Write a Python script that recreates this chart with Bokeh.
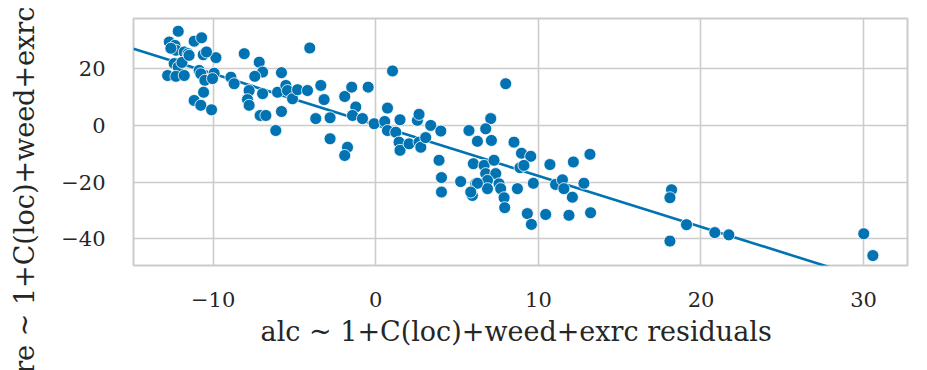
import numpy as np
from bokeh.plotting import figure
from bokeh.models import FixedTicker, Range1d
from bokeh.embed import file_html
from bokeh.resources import INLINE

# partial-regression residuals
alc_resid = [
    -12.15, -12.70, -12.35, -12.29, -12.60, -11.78, -11.54, -11.17, -10.71, -10.61,
    -9.83, -8.09, -12.40, -12.15, -11.92, -12.80, -12.29, -11.78, -10.86, -10.76,
    -10.51, -9.94, -10.04, -8.91, -8.71, -10.59, -11.17, -10.76, -10.10, -7.17,
    -6.96, -7.44, -4.06, -5.80, -7.79, -7.89, -7.79, -6.96, -7.11, -6.76,
    -5.80, -6.15, -6.04, -5.53, -5.43, -5.12, -4.81, -4.20, -3.38, -3.18,
    -3.69, -2.81, -2.81, -1.74, -1.91, -1.91, -1.48, -0.47, 1.03, -1.23,
    -1.43, -0.82, -0.10, 0.72, 0.55, 0.72, 1.23, 1.49, 1.43, 1.49,
    2.05, 2.56, 2.66, 2.66, 2.77, 3.38, 4.00, 3.07, 3.89, 5.73,
    6.25, 6.00, 4.04, 4.04, 5.22, 6.15, 5.94, 7.99, 7.07, 6.76,
    7.11, 8.50, 8.96, 9.53, 10.71, 12.15, 13.17, 6.66, 7.27, 6.76,
    7.38, 6.87, 7.58, 6.87, 7.68, 7.89, 7.93, 8.71, 8.87, 9.11,
    9.69, 11.06, 11.48, 11.57, 12.09, 12.80, 9.32, 9.57, 10.45, 11.88,
    13.21, 18.19, 18.09, 19.11, 18.09, 20.85, 21.71, 30.01, 30.57, -11.48,
    6.25, 5.84, -10.41,
]
score_resid = [
    33.2, 29.4, 28.2, 26.5, 27.2, 25.9, 25.3, 29.7, 30.9, 24.9,
    23.9, 25.3, 21.8, 20.6, 22.2, 17.6, 17.3, 17.6, 19.4, 18.2,
    15.9, 18.4, 16.5, 17.0, 14.7, 11.7, 8.8, 7.1, 5.5, 22.3,
    18.8, 17.3, 27.3, 18.6, 12.3, 9.1, 7.1, 11.2, 3.5, 3.5,
    4.9, -1.8, 11.7, 14.1, 12.3, 9.4, 12.6, 12.3, 14.1, 9.1,
    2.4, 2.7, -4.7, -7.7, -10.6, 10.2, 13.5, 13.5, 19.2, 6.5,
    3.5, 2.4, 0.6, 6.1, 1.4, -1.8, -2.4, 2.0, -5.9, -8.8,
    -6.5, 1.8, 3.9, -5.9, -7.7, 0.0, -2.0, -4.3, -12.3, -1.8,
    -5.6, -13.5, -18.4, -23.5, -19.8, -20.6, -24.7, 14.7, 2.4, -1.2,
    -5.3, -5.9, -9.8, -10.9, -13.8, -12.9, -10.2, -14.1, -12.3, -17.0,
    -17.0, -19.4, -20.6, -22.3, -22.3, -25.5, -29.0, -22.3, -14.9, -14.1,
    -20.4, -20.8, -19.2, -22.3, -25.3, -20.4, -31.1, -34.9, -31.4, -31.7,
    -30.8, -22.7, -25.5, -35.0, -40.8, -37.8, -38.6, -38.2, -45.9, 24.7,
    -20.4, -23.5, 25.9,
]

x_ticks = [-10, 0, 10, 20, 30]
x_tick_labels = ["\u221210", "0", "10", "20", "30"]
y_ticks = [-40, -20, 0, 20]
y_tick_labels = ["\u221240", "\u221220", "0", "20"]
x_label = "alc ~ 1+C(loc)+weed+exrc  residuals"
y_label = "score ~ 1+C(loc)+weed+exrc  residuals"

x_lim = (-14.9, 32.7)
y_lim = (-49.4, 37.7)

BLUE = "#0173b2"
GRID = "#cccccc"
TXT = "#262626"
FONT = "DejaVu Serif"

p = figure(width=927, height=370, output_backend="svg", toolbar_location=None,
           x_range=Range1d(*x_lim), y_range=Range1d(*y_lim),
           min_border_left=133, min_border_right=20, min_border_top=18,
           min_border_bottom=105)

# regression line (OLS fit of the residuals), across the whole x range
slope, intercept = np.polyfit(alc_resid, score_resid, 1)
lx = np.array(x_lim)
p.line(lx, intercept + slope * lx, line_color=BLUE, line_width=2.6)

p.scatter(alc_resid, score_resid, size=12, fill_color=BLUE,
          line_color="white", line_width=0.8)

p.xaxis.ticker = FixedTicker(ticks=x_ticks)
p.yaxis.ticker = FixedTicker(ticks=y_ticks)
p.xaxis.major_label_overrides = dict(zip(x_ticks, x_tick_labels))
p.yaxis.major_label_overrides = dict(zip(y_ticks, y_tick_labels))
p.xaxis.axis_label = x_label
p.yaxis.axis_label = y_label

for ax in (p.xaxis[0], p.yaxis[0]):
    ax.axis_line_color = None
    ax.major_tick_line_color = None
    ax.minor_tick_line_color = None
    ax.major_label_text_font = FONT
    ax.major_label_text_font_size = "21px"
    ax.major_label_text_color = TXT
    ax.axis_label_text_font = FONT
    ax.axis_label_text_font_size = "27px"
    ax.axis_label_text_font_style = "normal"
    ax.axis_label_text_color = TXT

p.yaxis.major_label_standoff = 22
p.xaxis.major_label_standoff = 20
p.yaxis.axis_label_standoff = 18
p.xaxis.axis_label_standoff = 6

p.xgrid.grid_line_color = GRID
p.ygrid.grid_line_color = GRID
p.xgrid.grid_line_width = 1.6
p.ygrid.grid_line_width = 1.6
p.outline_line_color = GRID
p.outline_line_width = 2
p.background_fill_color = "white"
p.border_fill_color = "white"

open("out.html", "w").write(file_html(p, INLINE))
